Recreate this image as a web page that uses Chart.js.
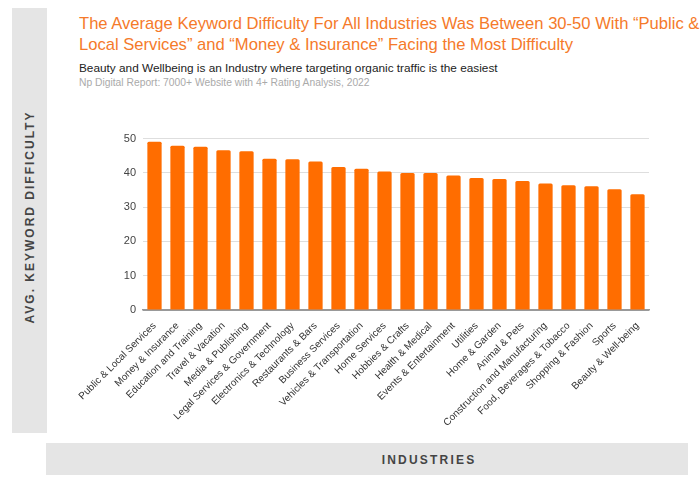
<!DOCTYPE html>
<html>
<head>
<meta charset="utf-8">
<script src="https://cdn.jsdelivr.net/npm/chart.js@4"></script>
<style>
  body { margin: 0; width: 700px; height: 485px; background: #fff; position: relative; overflow: hidden; font-family: "Liberation Sans", Arial, sans-serif; }
  .side { position: absolute; left: 12px; top: 8px; width: 35px; height: 425px; background: #e5e5e5; }
  .side span { position: absolute; left: 50%; top: 209px; transform: translate(-50%, -50%) rotate(-90deg); white-space: nowrap; font-size: 12px; font-weight: bold; letter-spacing: 2px; color: #444; }
  .bottom { position: absolute; left: 46px; top: 443px; width: 642px; height: 32px; background: #e5e5e5; text-align: center; line-height: 32px; }
  .bottom span { position: relative; left: 62px; font-size: 12px; font-weight: bold; letter-spacing: 2.2px; color: #444; }
  .title { position: absolute; left: 79px; top: 13px; white-space: nowrap; font-size: 16.6px; line-height: 21px; color: #f57a2a; }
  .sub { position: absolute; left: 79px; top: 61px; white-space: nowrap; font-size: 11.8px; color: #222; }
  .src { position: absolute; left: 79px; top: 77px; white-space: nowrap; font-size: 10.3px; color: #aaa; }
  canvas { position: absolute; left: 50px; top: 125px; }
</style>
</head>
<body>
<div class="side"><span>AVG. KEYWORD DIFFICULTY</span></div>
<div class="bottom"><span>INDUSTRIES</span></div>
<div class="title">The Average Keyword Difficulty For All Industries Was Between 30-50 With “Public &amp;<br>Local Services” and “Money &amp; Insurance” Facing the Most Difficulty</div>
<div class="sub">Beauty and Wellbeing is an Industry where targeting organic traffic is the easiest</div>
<div class="src">Np Digital Report: 7000+ Website with 4+ Rating Analysis, 2022</div>
<canvas id="chart" width="640" height="304"></canvas>
<script>
const industries = [
  'Public & Local Services', 'Money & Insurance', 'Education and Training',
  'Travel & Vacation', 'Media & Publishing', 'Legal Services & Government',
  'Electronics & Technology', 'Restaurants & Bars', 'Business Services',
  'Vehicles & Transportation', 'Home Services', 'Hobbies & Crafts',
  'Health & Medical', 'Events & Entertainment', 'Utilities', 'Home & Garden',
  'Animal & Pets', 'Construction and Manufacturing', 'Food, Beverages & Tobacco',
  'Shopping & Fashion', 'Sports', 'Beauty & Well-being'
];
const difficulty = [
  49.1, 47.9, 47.6, 46.6, 46.3, 44.1, 44.0, 43.3, 41.7, 41.2, 40.4,
  40.0, 40.0, 39.2, 38.5, 38.2, 37.6, 36.9, 36.4, 36.1, 35.2, 33.8
];
const yTicks = [0, 10, 20, 30, 40, 50];

const barColor = '#ff6d00';

new Chart(document.getElementById('chart').getContext('2d'), {
  type: 'bar',
  data: {
    labels: industries,
    datasets: [{
      data: difficulty,
      backgroundColor: barColor,
      borderRadius: { topLeft: 1.5, topRight: 1.5 },
      barPercentage: 0.62,
      categoryPercentage: 1
    }]
  },
  options: {
    responsive: false,
    animation: false,
    layout: { padding: { top: 8, right: 41 } },
    plugins: { legend: { display: false }, tooltip: { enabled: false } },
    scales: {
      x: {
        grid: { display: false },
        border: { color: '#999', width: 1.5 },
        ticks: {
          autoSkip: false, maxRotation: 45, minRotation: 45, padding: 2,
          color: '#333', font: { family: 'Liberation Sans', size: 10 }
        },
        afterFit: (scale) => { scale.height = 119; }
      },
      y: {
        min: 0, max: 50,
        border: { display: false },
        grid: {
          drawTicks: false,
          color: (ctx) => ctx.tick && ctx.tick.value === 0 ? '#999' : '#dedede'
        },
        afterBuildTicks: (scale) => { scale.ticks = yTicks.map(v => ({ value: v })); },
        ticks: {
          padding: 7, color: '#444', font: { family: 'Liberation Sans', size: 11 }
        },
        afterFit: (scale) => { scale.width = 93; }
      }
    }
  }
});
</script>
</body>
</html>
